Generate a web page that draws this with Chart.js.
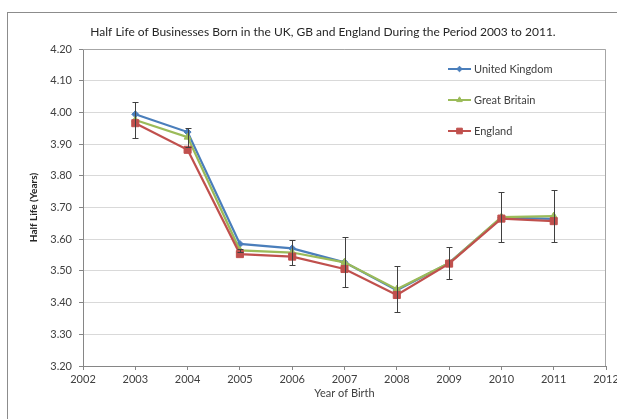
<!DOCTYPE html>
<html>
<head>
<meta charset="utf-8">
<title>Half Life of Businesses</title>
<script src="https://cdn.jsdelivr.net/npm/chart.js@4.4.0/dist/chart.umd.min.js"></script>
<style>
html, body { margin: 0; padding: 0; background: #fff; overflow: hidden; }
#frame { position: absolute; left: 7px; top: 12px; width: 640px; height: 440px; border: 1px solid #8c8c8c; }
#halfLife { position: absolute; left: 0; top: 0; }
</style>
</head>
<body>
<div id="frame"></div>
<canvas id="halfLife" width="617" height="419"></canvas>
<script>
// Half life (years) by year of birth
var years = [2003, 2004, 2005, 2006, 2007, 2008, 2009, 2010, 2011];
var ukValues = [3.994, 3.938, 3.585, 3.571, 3.527, 3.439, 3.525, 3.668, 3.664];
var gbValues = [3.976, 3.922, 3.565, 3.558, 3.527, 3.442, 3.525, 3.670, 3.673];
var englandValues = [3.966, 3.882, 3.553, 3.545, 3.506, 3.424, 3.523, 3.665, 3.657];
// +/- error on the Great Britain series
var gbError = [0.056, 0.030, 0.004, 0.039, 0.079, 0.073, 0.051, 0.078, 0.083];

var titleText = 'Half Life of Businesses Born in the UK, GB and England During the Period 2003 to 2011.';
var fontFamily = 'Lato, "Open Sans", sans-serif';

function toPoints(values) {
    return years.map(function(year, i) { return { x: year, y: values[i] }; });
}

function marker(ctx, style, radius, color, x, y) {
    ctx.fillStyle = color;
    ctx.strokeStyle = color;
    ctx.lineWidth = 1;
    Chart.helpers.drawPoint(ctx, { pointStyle: style, radius: radius, rotation: 0, borderWidth: 1 }, x, y);
}

// title, plot outline and legend box
var decorations = {
    id: 'decorations',
    beforeDatasetsDraw: function(chart) {
        var a = chart.chartArea, ctx = chart.ctx;
        ctx.save();
        ctx.strokeStyle = '#a6a6a6';
        ctx.lineWidth = 1;
        ctx.beginPath();
        ctx.moveTo(a.left, a.top + 0.5);
        ctx.lineTo(a.right - 0.5, a.top + 0.5);
        ctx.lineTo(a.right - 0.5, a.bottom);
        ctx.stroke();
        ctx.restore();
    },
    afterDraw: function(chart) {
        var a = chart.chartArea, ctx = chart.ctx;
        ctx.save();
        ctx.font = '12px ' + fontFamily;
        ctx.fillStyle = '#262626';
        ctx.textAlign = 'center';
        ctx.textBaseline = 'middle';
        ctx.fillText(titleText, 323, 32);

        ctx.font = '11px ' + fontFamily;
        ctx.textAlign = 'left';
        chart.data.datasets.forEach(function(ds, i) {
            var y = a.top + 20 + i * 31;
            var x0 = a.right - 158, x1 = a.right - 135;
            ctx.strokeStyle = ds.borderColor;
            ctx.lineWidth = 2;
            ctx.beginPath();
            ctx.moveTo(x0, y);
            ctx.lineTo(x1, y);
            ctx.stroke();
            marker(ctx, ds.pointStyle, ds.pointRadius * 0.8, ds.borderColor, (x0 + x1) / 2, y);
            ctx.fillStyle = '#404040';
            ctx.fillText(ds.label, a.right - 132, y);
        });
        ctx.restore();
    }
};

var errorBars = {
    id: 'errorBars',
    afterDatasetsDraw: function(chart) {
        var xs = chart.scales.x, ys = chart.scales.y, ctx = chart.ctx;
        ctx.save();
        ctx.strokeStyle = '#404040';
        ctx.lineWidth = 1;
        years.forEach(function(year, i) {
            var px = Math.round(xs.getPixelForValue(year)) + 0.5;
            var top = Math.round(ys.getPixelForValue(gbValues[i] + gbError[i])) + 0.5;
            var bottom = Math.round(ys.getPixelForValue(gbValues[i] - gbError[i])) + 0.5;
            ctx.beginPath();
            ctx.moveTo(px, top);
            ctx.lineTo(px, bottom);
            ctx.moveTo(px - 3, top);
            ctx.lineTo(px + 3, top);
            ctx.moveTo(px - 3, bottom);
            ctx.lineTo(px + 3, bottom);
            ctx.stroke();
        });
        ctx.restore();
    }
};

var ctx = document.getElementById('halfLife').getContext('2d');
var halfLifeChart = new Chart(ctx, {
    type: 'line',
    data: {
        datasets: [{
            label: 'United Kingdom',
            data: toPoints(ukValues),
            borderColor: '#4a7ebb',
            backgroundColor: '#4a7ebb',
            pointStyle: 'rectRot',
            pointRadius: 3.5,
            order: 3
        }, {
            label: 'Great Britain',
            data: toPoints(gbValues),
            borderColor: '#9bbb59',
            backgroundColor: '#9bbb59',
            pointStyle: 'triangle',
            pointRadius: 4,
            order: 2
        }, {
            label: 'England',
            data: toPoints(englandValues),
            borderColor: '#c0504d',
            backgroundColor: '#c0504d',
            pointStyle: 'rect',
            pointRadius: 5,
            order: 1
        }]
    },
    options: {
        responsive: false,
        animation: false,
        layout: { padding: { left: 8, right: 11, top: 49, bottom: 0 } },
        elements: {
            line: { borderWidth: 2.25, tension: 0 },
            point: { borderWidth: 1, hoverRadius: 5 }
        },
        plugins: {
            legend: { display: false },
            title: { display: false },
            tooltip: { enabled: false }
        },
        scales: {
            x: {
                type: 'linear',
                min: 2002,
                max: 2012,
                afterFit: function(scale) {
                    scale.height = 53;
                    // let the last year label run past the canvas edge
                    scale.paddingLeft = 0;
                    scale.paddingRight = 0;
                },
                ticks: {
                    stepSize: 1,
                    padding: 3,
                    color: '#404040',
                    font: { family: fontFamily, size: 11 },
                    callback: function(v) { return String(v); }
                },
                grid: { drawOnChartArea: false, tickLength: 4, color: '#868686', tickColor: '#868686' },
                border: { color: '#868686' },
                title: {
                    display: true,
                    text: 'Year of Birth',
                    color: '#404040',
                    font: { family: fontFamily, size: 11 },
                    padding: { top: 0, bottom: 19 }
                }
            },
            y: {
                min: 3.2,
                max: 4.2,
                afterFit: function(scale) { scale.width = 75; },
                ticks: {
                    stepSize: 0.1,
                    padding: 7,
                    color: '#404040',
                    font: { family: fontFamily, size: 11 },
                    callback: function(v) { return Number(v).toFixed(2); }
                },
                grid: { color: '#d9d9d9', tickLength: 4, tickColor: '#868686' },
                border: { color: '#868686' },
                title: {
                    display: true,
                    text: 'Half Life (Years)',
                    color: '#262626',
                    font: { family: fontFamily, size: 10, weight: 'bold' },
                    padding: { top: 20, bottom: 0 }
                }
            }
        }
    },
    plugins: [decorations, errorBars]
});
</script>
</body>
</html>
